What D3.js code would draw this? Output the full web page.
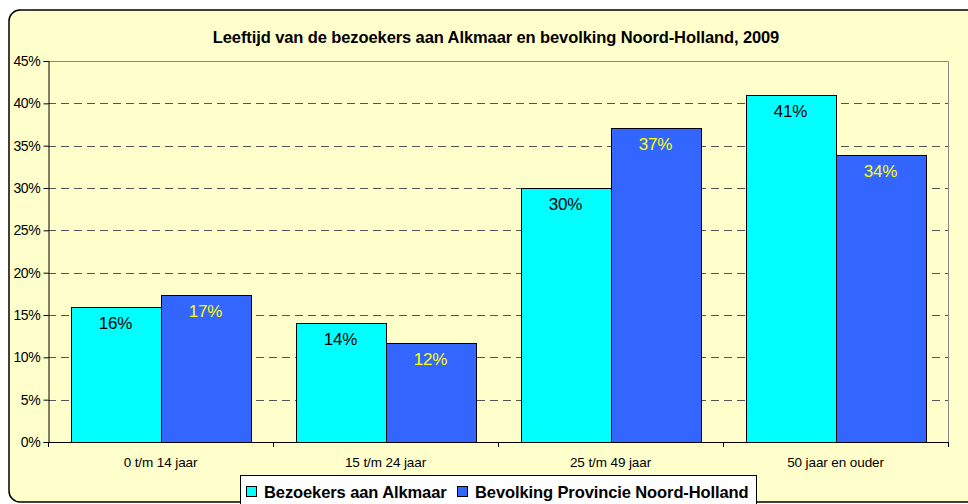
<!DOCTYPE html>
<html>
<head>
<meta charset="utf-8">
<script src="https://cdn.jsdelivr.net/npm/d3@7"></script>
<style>
  body { margin: 0; background: #fff; }
  svg { display: block; font-family: "Liberation Sans", Arial, sans-serif; }
</style>
</head>
<body>
<svg id="chart" width="968" height="504"></svg>
<script>
var categories = ['0 t/m 14 jaar', '15 t/m 24 jaar', '25 t/m 49 jaar', '50 jaar en ouder'];
var seriesNames = ['Bezoekers aan Alkmaar', 'Bevolking Provincie Noord-Holland'];
var bezoekers = [0.16, 0.14, 0.30, 0.41];
var bevolking = [0.174, 0.117, 0.371, 0.339];
var yTicks = [0, 0.05, 0.10, 0.15, 0.20, 0.25, 0.30, 0.35, 0.40, 0.45];

var color = {
  fill: ['#00ffff', '#3366ff'],
  label: ['#000000', '#ffff00']
};

var svg = d3.select('#chart');

var plot = { left: 48, right: 948, top: 61, bottom: 442 };

// outer chart frame
svg.append('rect')
  .attr('x', 9).attr('y', 10)
  .attr('width', 990).attr('height', 492)
  .attr('rx', 11).attr('ry', 11)
  .style('fill', '#ffffcc')
  .style('stroke', '#000')
  .style('stroke-width', 1.5);

svg.append('text')
  .attr('x', 496).attr('y', 43)
  .attr('text-anchor', 'middle')
  .style('font-size', '16.5px')
  .style('font-weight', 'bold')
  .style('letter-spacing', '-0.1px')
  .text('Leeftijd van de bezoekers aan Alkmaar en bevolking Noord-Holland, 2009');

var y = d3.scaleLinear().domain([0, 0.45]).range([plot.bottom, plot.top]);
var x0 = d3.scaleBand().domain(categories).range([plot.left, plot.right]).padding(0);
var x1 = d3.scaleBand().domain([0, 1]).range([0, x0.bandwidth()]).paddingInner(0).paddingOuter(0.25);

// gridlines
svg.append('g').selectAll('line')
  .data(yTicks.filter(function(d) { return d > 0 && d < 0.45; }))
  .enter().append('line')
  .attr('x1', plot.left).attr('x2', plot.right)
  .attr('y1', function(d) { return Math.round(y(d)) + 0.5; })
  .attr('y2', function(d) { return Math.round(y(d)) + 0.5; })
  .style('stroke', '#555')
  .style('stroke-dasharray', '8,5');

// plot frame top/right
svg.append('path')
  .attr('d', 'M' + plot.left + ',' + (plot.top + 0.5) + 'H' + (plot.right + 0.5) + 'V' + plot.bottom)
  .style('fill', 'none')
  .style('stroke', '#888');

var data = categories.map(function(c, i) {
  return { cat: c, values: [bezoekers[i], bevolking[i]] };
});

var group = svg.append('g').selectAll('g')
  .data(data)
  .enter().append('g')
  .attr('transform', function(d) { return 'translate(' + x0(d.cat) + ',0)'; });

group.selectAll('rect')
  .data(function(d) { return d.values; })
  .enter().append('rect')
  .attr('x', function(d, i) { return Math.round(x1(i)) + 0.5; })
  .attr('y', function(d) { return Math.round(y(d)) + 0.5; })
  .attr('width', x1.bandwidth())
  .attr('height', function(d) { return Math.round(y(0)) - Math.round(y(d)); })
  .style('fill', function(d, i) { return color.fill[i]; })
  .style('stroke', '#000')
  .style('stroke-width', 1);

group.selectAll('text')
  .data(function(d) { return d.values; })
  .enter().append('text')
  .attr('x', function(d, i) { return x1(i) + x1.bandwidth() / 2; })
  .attr('y', function(d) { return y(d) + 22; })
  .attr('text-anchor', 'middle')
  .style('font-size', '17px')
  .style('letter-spacing', '-0.2px')
  .style('fill', function(d, i) { return color.label[i]; })
  .text(function(d) { return Math.round(d * 100) + '%'; });

// axes
var yAxis = d3.axisLeft(y).tickValues(yTicks).tickSize(5).tickFormat(d3.format('.0%'));
var gy = svg.append('g')
  .attr('transform', 'translate(' + (plot.left + 0.5) + ',0)')
  .call(yAxis);
gy.select('.domain').style('stroke', '#000');
gy.selectAll('.tick text')
  .attr('x', -8)
  .style('font-size', '14px')
  .style('letter-spacing', '-0.3px')
  .style('font-family', '"Liberation Sans", Arial, sans-serif')
  .style('fill', '#000');

var xAxis = d3.axisBottom(x0).tickSize(0).tickFormat('');
var gx = svg.append('g')
  .attr('transform', 'translate(0,' + (plot.bottom + 0.5) + ')')
  .call(xAxis);
gx.select('.domain').attr('d', 'M' + plot.left + ',0H' + plot.right).style('stroke', '#000');

svg.append('g').selectAll('line')
  .data(categories.concat(['end']))
  .enter().append('line')
  .attr('x1', function(d, i) { return plot.left + 0.5 + i * x0.step(); })
  .attr('x2', function(d, i) { return plot.left + 0.5 + i * x0.step(); })
  .attr('y1', plot.bottom).attr('y2', plot.bottom + 5)
  .style('stroke', '#000');

svg.append('g').selectAll('text')
  .data(categories)
  .enter().append('text')
  .attr('x', function(d) { return x0(d) + x0.bandwidth() / 2; })
  .attr('y', 467)
  .attr('text-anchor', 'middle')
  .style('font-size', '13.5px')
  .style('letter-spacing', '-0.1px')
  .text(function(d) { return d; });

// legend
var legend = svg.append('g');
legend.append('rect')
  .attr('x', 240.5).attr('y', 475.5)
  .attr('width', 516).attr('height', 40)
  .style('fill', '#fff')
  .style('stroke', '#000');

var legendX = [246, 457];
var item = legend.selectAll('g')
  .data(seriesNames)
  .enter().append('g')
  .attr('transform', function(d, i) { return 'translate(' + legendX[i] + ',486)'; });

item.append('rect')
  .attr('x', 0.5).attr('y', 0.5)
  .attr('width', 10).attr('height', 10)
  .style('fill', function(d, i) { return color.fill[i]; })
  .style('stroke', '#000');

item.append('text')
  .attr('x', 18).attr('y', 11.5)
  .style('font-size', '16.5px')
  .style('font-weight', 'bold')
  .style('letter-spacing', '-0.1px')
  .text(function(d) { return d; });
</script>
</body>
</html>
